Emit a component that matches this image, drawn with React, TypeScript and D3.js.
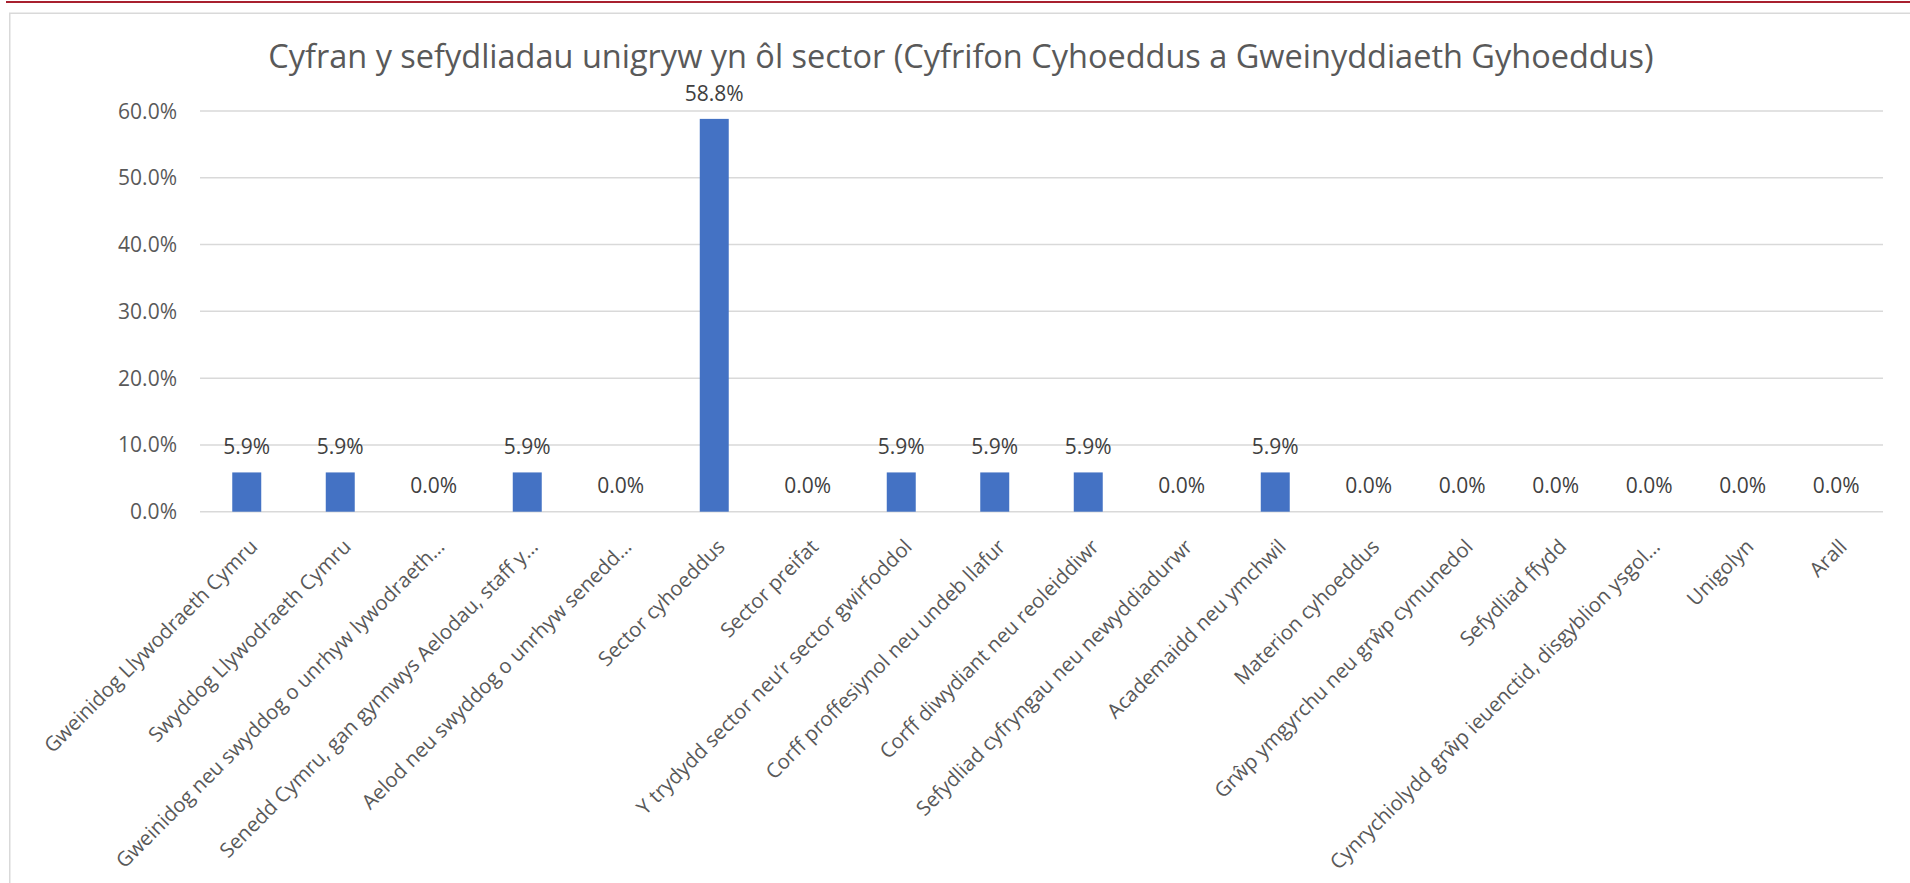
import React, { useLayoutEffect, useRef, useState } from "react";
import * as d3 from "d3";

const TITLE = "Cyfran y sefydliadau unigryw yn ôl sector (Cyfrifon Cyhoeddus a Gweinyddiaeth Gyhoeddus)";

const categories: string[] = [
  "Gweinidog Llywodraeth Cymru",
  "Swyddog Llywodraeth Cymru",
  "Gweinidog neu swyddog o unrhyw lywodraeth…",
  "Senedd Cymru, gan gynnwys Aelodau, staff y…",
  "Aelod neu swyddog o unrhyw senedd…",
  "Sector cyhoeddus",
  "Sector preifat",
  "Y trydydd sector neu’r sector gwirfoddol",
  "Corff proffesiynol neu undeb llafur",
  "Corff diwydiant neu reoleiddiwr",
  "Sefydliad cyfryngau neu newyddiadurwr",
  "Academaidd neu ymchwil",
  "Materion cyhoeddus",
  "Grŵp ymgyrchu neu grŵp cymunedol",
  "Sefydliad ffydd",
  "Cynrychiolydd grŵp ieuenctid, disgyblion ysgol…",
  "Unigolyn",
  "Arall",
];

const values: number[] = [5.88, 5.88, 0, 5.88, 0, 58.82, 0, 5.88, 5.88, 5.88, 0, 5.88, 0, 0, 0, 0, 0, 0];

const yTicks: number[] = [0, 10, 20, 30, 40, 50, 60];

const FONT = "'Open Sans', 'Noto Sans', sans-serif";
const TEXT = "#595959";

export default function App() {
  const W = 1910;
  const H = 883;
  const x = d3.scaleBand<string>().domain(categories).range([200, 1883]).paddingInner(0.69).paddingOuter(0.345);
  const y = d3.scaleLinear().domain([0, 60]).range([511.7, 111]);
  const fmt = (v: number) => d3.format(".1f")(v) + "%";

  const titleRef = useRef<SVGTextElement>(null);
  const [titleSize, setTitleSize] = useState(32);
  useLayoutEffect(() => {
    const el = titleRef.current;
    if (!el) return;
    const len = el.getComputedTextLength();
    if (len > 0) {
      const target = 1386;
      const next = titleSize * (target / len);
      if (Math.abs(next - titleSize) > 0.05) setTitleSize(next);
    }
  }, [titleSize]);

  return (
    <svg width={W} height={H} style={{ position: "absolute", left: 0, top: 0, background: "#fff" }}>
      <rect x={0} y={0} width={W} height={H} fill="#ffffff" />
      {/* top red rule */}
      <rect x={6} y={1} width={W - 6} height={2} fill="#a8202f" />
      {/* chart frame */}
      <path d={`M9.75,${H} V13.25 H${W}`} fill="none" stroke="#d9d9d9" strokeWidth={1.5} />

      <text
        ref={titleRef}
        x={961}
        y={68}
        textAnchor="middle"
        fontFamily={FONT}
        fontSize={titleSize}
        fill={TEXT}
      >
        {TITLE}
      </text>

      {/* gridlines */}
      {yTicks.map((t) => (
        <line key={"g" + t} x1={200} x2={1883} y1={y(t)} y2={y(t)} stroke="#d9d9d9" strokeWidth={1.5} />
      ))}
      {/* y tick labels */}
      {yTicks.map((t) => (
        <text
          key={"yl" + t}
          x={177}
          y={y(t)}
          dy="0.36em"
          textAnchor="end"
          fontFamily={FONT}
          fontSize={21}
          fill={TEXT}
        >
          {fmt(t)}
        </text>
      ))}

      {/* bars */}
      {categories.map((c, i) => (
        <rect
          key={"b" + i}
          x={x(c)}
          y={y(values[i])}
          width={x.bandwidth()}
          height={y(0) - y(values[i])}
          fill="#4472c4"
        />
      ))}

      {/* data labels */}
      {categories.map((c, i) => (
        <text
          key={"dl" + i}
          x={(x(c) as number) + x.bandwidth() / 2}
          y={y(values[i]) - (values[i] === 0 ? 19 : 18)}
          textAnchor="middle"
          fontFamily={FONT}
          fontSize={21}
          fill="#404040"
        >
          {fmt(values[i])}
        </text>
      ))}

      {/* category labels */}
      {categories.map((c, i) => {
        const cx = (x(c) as number) + x.bandwidth() / 2 + 12;
        const cy = 548;
        return (
          <text
            key={"cl" + i}
            x={cx}
            y={cy}
            textAnchor="end"
            transform={`rotate(-45 ${cx} ${cy})`}
            fontFamily={FONT}
            fontSize={20.4}
            fill={TEXT}
          >
            {c}
          </text>
        );
      })}
    </svg>
  );
}
